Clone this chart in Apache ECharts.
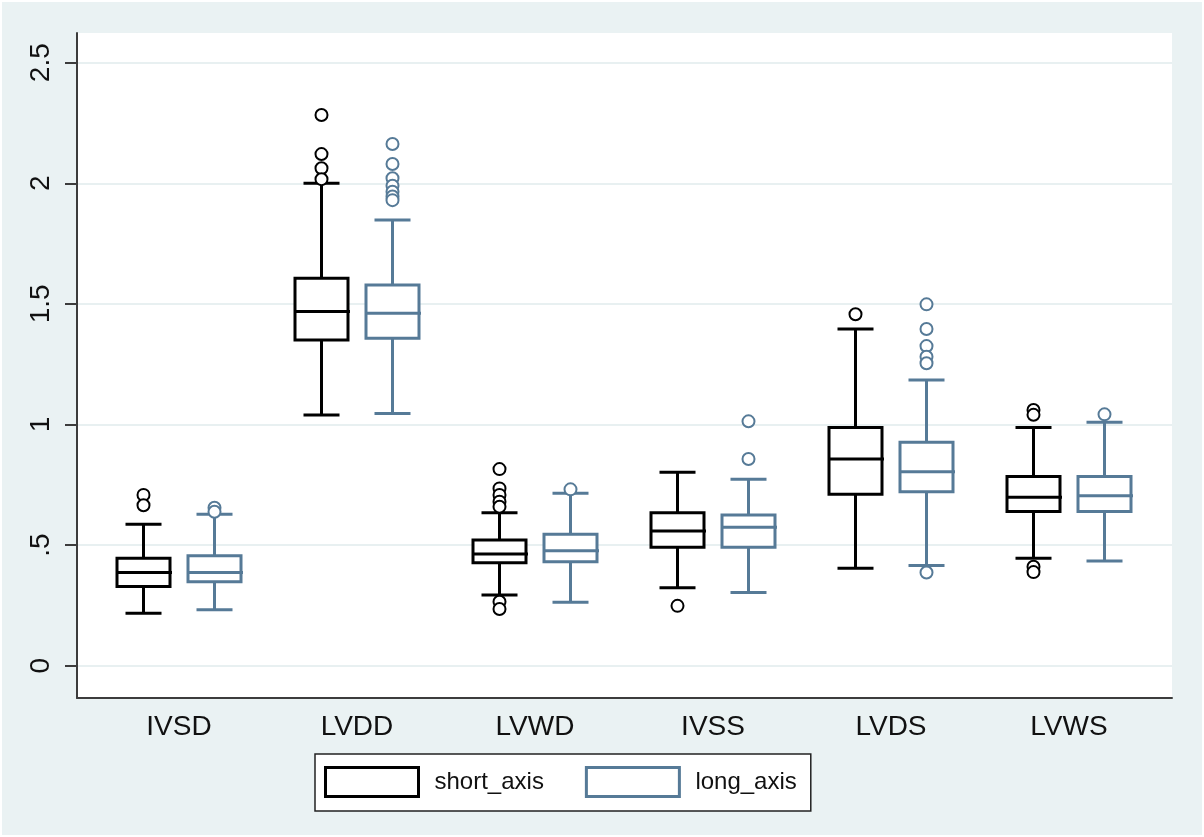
<!DOCTYPE html>
<html>
<head>
<meta charset="utf-8">
<script src="https://cdn.jsdelivr.net/npm/echarts@6/dist/echarts.min.js"></script>
<style>
  html, body { margin: 0; padding: 0; background: #fff; }
  #chart { width: 1204px; height: 837px; }
</style>
</head>
<body>
<div id="chart"></div>
<script>
// categories on the x axis
const categories = ['IVSD', 'LVDD', 'LVWD', 'IVSS', 'LVDS', 'LVWS']
const yTicks = [0, 0.5, 1, 1.5, 2, 2.5]

// [lower whisker, Q1, median, Q3, upper whisker]
const shortAxisStats = [
  [0.217, 0.328, 0.386, 0.445, 0.586],
  [1.039, 1.350, 1.468, 1.606, 2.000],
  [0.293, 0.427, 0.463, 0.521, 0.634],
  [0.323, 0.491, 0.558, 0.634, 0.802],
  [0.404, 0.711, 0.857, 0.987, 1.396],
  [0.445, 0.639, 0.698, 0.784, 0.987]
]
const longAxisStats = [
  [0.232, 0.348, 0.386, 0.456, 0.628],
  [1.046, 1.357, 1.461, 1.578, 1.848],
  [0.263, 0.431, 0.476, 0.545, 0.715],
  [0.303, 0.491, 0.574, 0.625, 0.773],
  [0.415, 0.721, 0.804, 0.926, 1.184],
  [0.434, 0.639, 0.704, 0.784, 1.009]
]

// outliers: [category index, value]
const shortAxisOutliers = [
  [0, 0.708], [0, 0.665],
  [1, 2.283], [1, 2.121], [1, 2.062], [1, 2.017],
  [2, 0.815], [2, 0.735], [2, 0.708], [2, 0.680], [2, 0.659], [2, 0.265], [2, 0.235],
  [3, 0.248],
  [4, 1.457],
  [5, 1.060], [5, 1.040], [5, 0.410], [5, 0.388]
]
const longAxisOutliers = [
  [0, 0.655], [0, 0.638],
  [1, 2.163], [1, 2.080], [1, 2.021], [1, 1.990], [1, 1.965], [1, 1.945], [1, 1.930],
  [2, 0.731],
  [3, 1.013], [3, 0.857],
  [4, 1.498], [4, 1.396], [4, 1.325], [4, 1.281], [4, 1.254], [4, 0.386],
  [5, 1.042]
]

const SHORT_COLOR = '#000000'
const LONG_COLOR = '#567a97'
const BG = '#eaf2f3'
const FONT = '"Liberation Sans", Arial, sans-serif'
const yMin = -0.134
const yMax = 2.623
const boxOffset = 35.5
const LW = 3

function boxRender(offset, color) {
  return function (params, api) {
    const i = api.value(0)
    const x = api.coord([i, 0])[0] + offset
    const y = (k) => api.coord([i, api.value(k)])[1]
    const lo = y(1), q1 = y(2), med = y(3), q3 = y(4), hi = y(5)
    const hw = 26.5 // half box width
    const cw = 18 // half cap width
    const line = { stroke: color, lineWidth: LW }
    return {
      type: 'group',
      children: [
        { type: 'line', shape: { x1: x, y1: q3, x2: x, y2: hi }, style: line },
        { type: 'line', shape: { x1: x, y1: q1, x2: x, y2: lo }, style: line },
        { type: 'line', shape: { x1: x - cw, y1: hi, x2: x + cw, y2: hi }, style: line },
        { type: 'line', shape: { x1: x - cw, y1: lo, x2: x + cw, y2: lo }, style: line },
        { type: 'rect', shape: { x: x - hw, y: q3, width: hw * 2, height: q1 - q3 },
          style: { stroke: color, lineWidth: LW, fill: '#fff' } },
        { type: 'line', shape: { x1: x - hw, y1: med, x2: x + hw + 2, y2: med }, style: line }
      ]
    }
  }
}

const chart = echarts.init(document.getElementById('chart'))

chart.setOption({
  backgroundColor: BG,
  animation: false,
  textStyle: { fontFamily: FONT },
  graphic: [{
    type: 'rect',
    shape: { x: 0, y: 0, width: 1204, height: 837 },
    style: { fill: 'none', stroke: '#fff', lineWidth: 4 },
    z: 100
  }],
  legend: {
    left: 315,
    top: 754,
    orient: 'horizontal',
    padding: [12, 14, 13, 9],
    itemWidth: 93,
    itemHeight: 29,
    itemGap: 41,
    icon: 'rect',
    backgroundColor: '#fff',
    borderColor: '#222',
    borderWidth: 1.5,
    textStyle: { fontSize: 24, color: '#111', fontFamily: FONT, padding: [0, 0, 0, 11] },
    data: [
      { name: 'short_axis', itemStyle: { color: '#fff', borderColor: SHORT_COLOR, borderWidth: 3 } },
      { name: 'long_axis', itemStyle: { color: '#fff', borderColor: LONG_COLOR, borderWidth: 3 } }
    ]
  },
  grid: [
    // plot frame
    { left: 77, top: 33, width: 1095, height: 665, show: true, backgroundColor: '#fff', borderWidth: 0 },
    // category band area
    { left: 90, top: 33, width: 1068, height: 665 }
  ],
  xAxis: [
    {
      gridIndex: 0, type: 'value', min: 0, max: 1,
      axisLine: { show: true, onZero: false, lineStyle: { color: '#3c3c3c', width: 2 } },
      axisTick: { show: false }, axisLabel: { show: false }, splitLine: { show: false }
    },
    {
      gridIndex: 1, type: 'category', data: categories,
      axisLine: { show: false, onZero: false }, axisTick: { show: false }, splitLine: { show: false },
      axisLabel: { fontSize: 28, color: '#111', margin: 15, fontFamily: FONT }
    }
  ],
  yAxis: [
    {
      gridIndex: 0, type: 'value', min: yMin, max: yMax,
      axisLine: { show: true, lineStyle: { color: '#3c3c3c', width: 2 } },
      axisTick: { show: true, length: 12, customValues: yTicks, lineStyle: { color: '#3c3c3c', width: 2 } },
      splitLine: { show: true, lineStyle: { color: '#e8f0f1', width: 2 } },
      axisLabel: {
        customValues: yTicks,
        rotate: 90,
        fontSize: 28,
        color: '#111',
        margin: 22,
        fontFamily: FONT,
        formatter: (v) => (v === 0 ? '0' : String(v).replace(/^0\./, '.'))
      }
    },
    {
      gridIndex: 1, type: 'value', min: yMin, max: yMax, show: false,
      splitLine: { show: false }
    }
  ],
  series: [
    {
      name: 'short_axis', type: 'custom', xAxisIndex: 1, yAxisIndex: 1,
      renderItem: boxRender(-boxOffset, SHORT_COLOR),
      encode: { x: 0, y: [1, 2, 3, 4, 5] },
      itemStyle: { color: SHORT_COLOR },
      data: shortAxisStats.map((s, i) => [i].concat(s)),
      z: 3
    },
    {
      name: 'long_axis', type: 'custom', xAxisIndex: 1, yAxisIndex: 1,
      renderItem: boxRender(boxOffset, LONG_COLOR),
      encode: { x: 0, y: [1, 2, 3, 4, 5] },
      itemStyle: { color: LONG_COLOR },
      data: longAxisStats.map((s, i) => [i].concat(s)),
      z: 3
    },
    {
      name: 'short_axis outliers', type: 'scatter', xAxisIndex: 1, yAxisIndex: 1,
      symbol: 'emptyCircle', symbolSize: 12, symbolOffset: [-boxOffset, 0],
      itemStyle: { color: SHORT_COLOR, borderWidth: 3, opacity: 1 },
      data: shortAxisOutliers, z: 4
    },
    {
      name: 'long_axis outliers', type: 'scatter', xAxisIndex: 1, yAxisIndex: 1,
      symbol: 'emptyCircle', symbolSize: 12, symbolOffset: [boxOffset, 0],
      itemStyle: { color: LONG_COLOR, borderWidth: 3, opacity: 1 },
      data: longAxisOutliers, z: 4
    }
  ]
})
</script>
</body>
</html>
